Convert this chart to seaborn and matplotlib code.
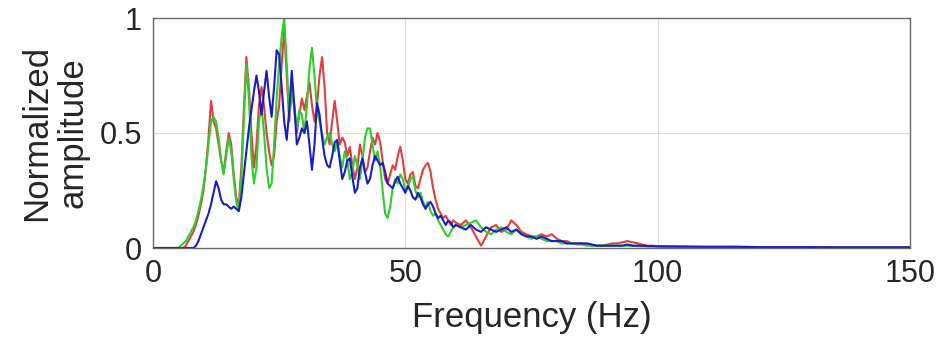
import numpy as np
import pandas as pd
import matplotlib
matplotlib.use("Agg")
import matplotlib.pyplot as plt
import seaborn as sns

# Frequency grid (Hz): fine below 60 Hz, coarser above
freq = np.concatenate([np.arange(0, 60.5, 0.5), np.arange(61, 101, 1), np.arange(105, 155, 5)])

red = [0]*13 + [
    0.01, 0.03, 0.05, 0.07, 0.10, 0.14, 0.19, 0.25, 0.35, 0.48, 0.64, 0.55, 0.52, 0.45, 0.38, 0.33,
    0.42, 0.50, 0.45, 0.32, 0.22, 0.18, 0.35, 0.60, 0.83, 0.70, 0.50, 0.35, 0.45, 0.62, 0.70, 0.62,
    0.50, 0.42, 0.36, 0.40, 0.55, 0.62, 0.80, 0.95, 0.75, 0.55, 0.70, 0.60, 0.50, 0.58, 0.65, 0.60,
    0.66, 0.72, 0.62, 0.55, 0.62, 0.75, 0.83, 0.70, 0.50, 0.45, 0.55, 0.64, 0.55, 0.45, 0.48, 0.46,
    0.40, 0.44, 0.36, 0.30, 0.35, 0.45, 0.40, 0.33, 0.35, 0.42, 0.48, 0.45, 0.50, 0.46, 0.38, 0.30,
    0.28, 0.32, 0.36, 0.34, 0.40, 0.44, 0.38, 0.30, 0.28, 0.32, 0.33, 0.27, 0.26, 0.30, 0.34, 0.36,
    0.37, 0.33, 0.26, 0.21, 0.17, 0.15, 0.13, 0.14, 0.12, 0.10, 0.12, 0.11,
    # 61..100
    0.10, 0.12, 0.09, 0.05, 0.01, 0.05, 0.09, 0.10, 0.07, 0.08, 0.12, 0.10, 0.07, 0.06, 0.05, 0.05,
    0.06, 0.05, 0.06, 0.04, 0.03, 0.03, 0.02, 0.02, 0.02, 0.015, 0.01, 0.01, 0.01, 0.015, 0.02, 0.02,
    0.025, 0.03, 0.025, 0.02, 0.015, 0.01, 0.01, 0.008,
    # 105..150
    0.006, 0.005, 0.006, 0.004, 0.004, 0.004, 0.003, 0.004, 0.003, 0.003]

green = [0]*11 + [
    0.01, 0.02, 0.03, 0.05, 0.07, 0.09, 0.12, 0.16, 0.21, 0.27, 0.35, 0.45, 0.55, 0.57, 0.55, 0.48,
    0.38, 0.32, 0.40, 0.48, 0.42, 0.30, 0.20, 0.16, 0.30, 0.55, 0.80, 0.65, 0.40, 0.28, 0.35, 0.55,
    0.62, 0.50, 0.35, 0.26, 0.28, 0.45, 0.65, 0.80, 0.92, 1.00, 0.80, 0.58, 0.68, 0.62, 0.52, 0.60,
    0.58, 0.50, 0.62, 0.78, 0.87, 0.75, 0.60, 0.55, 0.50, 0.45, 0.48, 0.50, 0.45, 0.42, 0.46, 0.40,
    0.35, 0.42, 0.38, 0.30, 0.33, 0.40, 0.36, 0.30, 0.38, 0.48, 0.52, 0.52, 0.45, 0.38, 0.42, 0.36,
    0.25, 0.15, 0.13, 0.18, 0.26, 0.30, 0.28, 0.32, 0.30, 0.25, 0.26, 0.30, 0.31, 0.25, 0.22, 0.24,
    0.20, 0.18, 0.20, 0.16, 0.14, 0.15, 0.12, 0.10, 0.08, 0.06, 0.05, 0.07, 0.09, 0.10,
    # 61..100
    0.09, 0.10, 0.11, 0.12, 0.09, 0.07, 0.06, 0.08, 0.09, 0.07, 0.06, 0.08, 0.06, 0.05, 0.04, 0.05,
    0.04, 0.03, 0.03, 0.03, 0.02, 0.02, 0.02, 0.015, 0.015, 0.01, 0.01, 0.01, 0.01, 0.01, 0.01, 0.01,
    0.01, 0.01, 0.01, 0.008, 0.008, 0.007, 0.007, 0.006,
    # 105..150
    0.005, 0.005, 0.004, 0.004, 0.004, 0.003, 0.003, 0.003, 0.003, 0.003]

blue = [0]*17 + [
    0.01, 0.03, 0.06, 0.09, 0.12, 0.15, 0.19, 0.24, 0.29, 0.26, 0.21, 0.19, 0.19, 0.18, 0.17, 0.18,
    0.17, 0.16, 0.22, 0.32, 0.42, 0.52, 0.60, 0.68, 0.75, 0.68, 0.58, 0.68, 0.77, 0.66, 0.57, 0.70,
    0.86, 0.84, 0.70, 0.55, 0.47, 0.60, 0.77, 0.62, 0.45, 0.48, 0.52, 0.50, 0.55, 0.45, 0.34, 0.45,
    0.63, 0.58, 0.48, 0.40, 0.36, 0.35, 0.40, 0.46, 0.47, 0.38, 0.30, 0.33, 0.38, 0.39, 0.31, 0.24,
    0.26, 0.35, 0.39, 0.33, 0.28, 0.30, 0.36, 0.40, 0.38, 0.36, 0.37, 0.33, 0.28, 0.27, 0.26, 0.29,
    0.31, 0.28, 0.26, 0.24, 0.27, 0.25, 0.22, 0.21, 0.24, 0.22, 0.19, 0.17, 0.19, 0.20, 0.18, 0.15,
    0.13, 0.14, 0.12, 0.10, 0.12, 0.11, 0.09, 0.10,
    # 61..100
    0.09, 0.08, 0.10, 0.08, 0.07, 0.09, 0.08, 0.07, 0.08, 0.09, 0.07, 0.08, 0.06, 0.05, 0.05, 0.04,
    0.05, 0.04, 0.03, 0.03, 0.03, 0.02, 0.02, 0.02, 0.02, 0.02, 0.015, 0.01, 0.01, 0.01, 0.01, 0.01,
    0.01, 0.015, 0.01, 0.01, 0.01, 0.008, 0.008, 0.007,
    # 105..150
    0.006, 0.005, 0.005, 0.004, 0.004, 0.004, 0.003, 0.003, 0.003, 0.003]

series_names = ["red", "green", "blue"]
series_colors = {"red": "#e0403c", "green": "#30cc30", "blue": "#1c1cc4"}
xticks = [0, 50, 100, 150]
yticks = [0, 0.5, 1]
ytick_labels = ["0", "0.5", "1"]

assert len(red) == len(freq), (len(red), len(freq))
assert len(green) == len(freq), (len(green), len(freq))
assert len(blue) == len(freq), (len(blue), len(freq))

df = pd.concat([
    pd.DataFrame({"Frequency": freq, "Amplitude": vals, "Series": name})
    for name, vals in zip(series_names, [red, green, blue])
], ignore_index=True)

sns.set_theme(style="white")
plt.rcParams["font.family"] = ["Liberation Sans", "DejaVu Sans"]

fig = plt.figure(figsize=(9.4, 3.39), dpi=100)
ax = fig.add_axes([153/940, 1 - 248/339, (910-153)/940, (248-18)/339])

sns.lineplot(data=df, x="Frequency", y="Amplitude", hue="Series", palette=series_colors,
             hue_order=series_names, estimator=None, sort=True, linewidth=1.5,
             legend=False, ax=ax)

ax.set_xlim(0, 150)
ax.set_ylim(0, 1)
ax.set_xticks(xticks)
ax.set_yticks(yticks)
ax.set_yticklabels(ytick_labels)
ax.grid(True, color="#dcdcdc", linewidth=0.8)
ax.set_axisbelow(True)
for s in ax.spines.values():
    s.set_color("#6a6a6a")
    s.set_linewidth(1.0)
ax.tick_params(direction="in", length=4, width=0.8, color="#6a6a6a",
               labelsize=22, labelcolor="#262626", pad=8)

ax.set_xlabel("Frequency (Hz)", fontsize=25, color="#262626", va="center")
ax.xaxis.set_label_coords(0.5, -0.300)
ax.set_ylabel("Normalized\namplitude", fontsize=25, color="#262626", va="center",
              linespacing=1.12)
ax.yaxis.set_label_coords(-0.13, 0.5)

fig.savefig("out.png", dpi=100)
